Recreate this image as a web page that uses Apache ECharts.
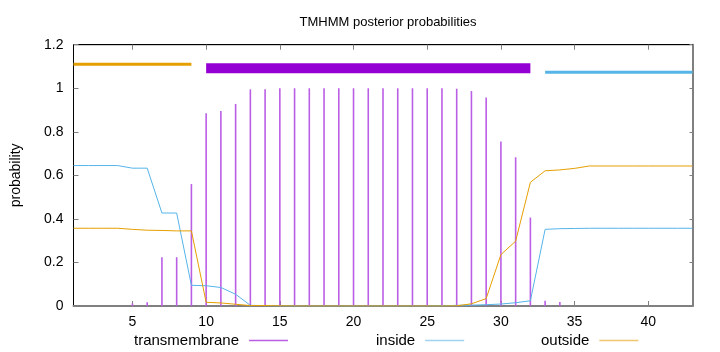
<!DOCTYPE html>
<html>
<head>
<meta charset="utf-8">
<script src="https://cdn.jsdelivr.net/npm/echarts@6/dist/echarts.min.js"></script>
<style>
  html, body { margin: 0; padding: 0; background: #fff; }
  #chart { width: 720px; height: 352px; }
</style>
</head>
<body>
<div id="chart"></div>
<script>
// residue positions
const positions = [1, 2, 3, 4, 5, 6, 7, 8, 9, 10, 11, 12, 13, 14, 15, 16, 17, 18, 19, 20, 21,
  22, 23, 24, 25, 26, 27, 28, 29, 30, 31, 32, 33, 34, 35, 36, 37, 38, 39, 40, 41, 42, 43]

// posterior probabilities per residue
const transmembrane = [0, 0, 0, 0, 0.012, 0.017, 0.224, 0.224, 0.56, 0.885, 0.895, 0.928, 0.995, 0.995,
  1, 1, 1, 1, 1, 1, 1, 1, 1, 1, 1, 1, 0.998, 0.987, 0.958, 0.755, 0.683, 0.406, 0.024, 0.018,
  0, 0, 0, 0, 0, 0, 0, 0, 0]
const inside = [0.645, 0.645, 0.645, 0.645, 0.633, 0.633, 0.427, 0.427, 0.095, 0.093, 0.085, 0.054,
  0.003, 0.002, 0.001, 0, 0, 0, 0, 0, 0, 0, 0, 0, 0, 0.001, 0.003, 0.004, 0.006, 0.009, 0.015, 0.024,
  0.352, 0.355, 0.356, 0.357, 0.357, 0.357, 0.357, 0.357, 0.357, 0.357, 0.357]
const outside = [0.357, 0.357, 0.357, 0.357, 0.352, 0.348, 0.347, 0.345, 0.345, 0.017, 0.014, 0.008,
  0.002, 0.002, 0.001, 0, 0, 0, 0, 0, 0, 0, 0, 0, 0, 0, 0.001, 0.01, 0.034, 0.236, 0.298, 0.568,
  0.621, 0.625, 0.632, 0.643, 0.643, 0.643, 0.643, 0.643, 0.643, 0.643, 0.643]

// predicted topology segments [from, to, level]
const outsideSeg = [1, 9, 1.11]
const helixSeg = [10, 32, 1.092]
const insideSeg = [33, 43, 1.074]

const xTicks = [5, 10, 15, 20, 25, 30, 35, 40]

const font = 'Liberation Sans, Arial, sans-serif'
const purple = '#9400d3'
const blue = '#56b4e9'
const orange = '#e69f00'

const pairs = (ys) => positions.map((x, i) => [x, ys[i]])
const seg = (s) => [[s[0], s[2]], [s[1], s[2]]]

const chart = echarts.init(document.getElementById('chart'))

const legendBase = {
  orient: 'horizontal',
  align: 'right',
  top: 333,
  padding: 0,
  itemWidth: 39,
  itemHeight: 1.5,
  icon: 'rect',
  textStyle: { fontFamily: font, fontSize: 15, color: '#000', padding: [0, 5, 0, 0] }
}

const option = {
  animation: false,
  title: {
    text: 'TMHMM posterior probabilities',
    left: 383,
    textAlign: 'center',
    top: 11,
    textStyle: { fontFamily: font, fontSize: 13, fontWeight: 'normal', color: '#000' }
  },
  legend: [
    Object.assign({}, legendBase, { left: 134, data: ['transmembrane'] }),
    Object.assign({}, legendBase, { left: 376, data: ['inside'] }),
    Object.assign({}, legendBase, { left: 541, data: ['outside'] })
  ],
  grid: {
    left: 73.5, right: 27.5, top: 44.7, bottom: 46,
    show: true, borderColor: '#000', borderWidth: 1, backgroundColor: 'transparent'
  },
  xAxis: [
    {
      type: 'value',
      min: 1,
      max: 43,
      axisLine: { show: true, onZero: false, lineStyle: { color: '#808080', width: 2 } },
      axisTick: { inside: true, length: 5, customValues: xTicks, lineStyle: { color: '#808080' } },
      axisLabel: { customValues: xTicks, margin: 9, fontFamily: font, fontSize: 14, color: '#000' },
      splitLine: { show: false }
    },
    {
      type: 'value',
      position: 'top',
      min: 1,
      max: 43,
      axisLine: { show: true, onZero: false, lineStyle: { color: '#000', width: 1 } },
      axisTick: { inside: true, length: 5, customValues: xTicks, lineStyle: { color: '#808080' } },
      axisLabel: { show: false },
      splitLine: { show: false }
    }
  ],
  yAxis: [
    {
      type: 'value',
      min: 0,
      max: 1.2,
      interval: 0.2,
      name: 'probability',
      nameLocation: 'middle',
      nameGap: 50,
      nameTextStyle: { fontFamily: font, fontSize: 14, color: '#000' },
      axisLine: { show: true, onZero: false, lineStyle: { color: '#000', width: 1 } },
      axisTick: { inside: true, length: 5, lineStyle: { color: '#808080' } },
      axisLabel: { margin: 10, fontFamily: font, fontSize: 14, color: '#000' },
      splitLine: { show: false }
    },
    {
      type: 'value',
      position: 'right',
      min: 0,
      max: 1.2,
      interval: 0.2,
      axisLine: { show: true, onZero: false, lineStyle: { color: '#808080', width: 2 } },
      axisTick: { inside: true, length: 3, lineStyle: { color: '#808080' } },
      axisLabel: { show: false },
      splitLine: { show: false }
    }
  ],
  series: [
    {
      name: 'transmembrane',
      type: 'bar',
      barWidth: 1.6,
      itemStyle: { color: '#bb5ee6' },
      data: pairs(transmembrane),
      z: 2
    },
    {
      name: 'inside',
      type: 'line',
      showSymbol: false,
      lineStyle: { color: blue, width: 1 },
      itemStyle: { color: '#9fd3f0' },
      data: pairs(inside),
      z: 3
    },
    {
      name: 'outside',
      type: 'line',
      showSymbol: false,
      lineStyle: { color: orange, width: 1 },
      itemStyle: { color: '#f0c770' },
      data: pairs(outside),
      z: 3
    },
    {
      name: 'outsideSeg',
      type: 'line',
      xAxisIndex: 1,
      yAxisIndex: 1,
      showSymbol: false,
      lineStyle: { color: orange, width: 3 },
      data: seg(outsideSeg)
    },
    {
      name: 'helixSeg',
      type: 'line',
      xAxisIndex: 1,
      yAxisIndex: 1,
      showSymbol: false,
      lineStyle: { color: purple, width: 10, cap: 'butt' },
      data: seg(helixSeg)
    },
    {
      name: 'insideSeg',
      type: 'line',
      xAxisIndex: 1,
      yAxisIndex: 1,
      showSymbol: false,
      lineStyle: { color: blue, width: 3 },
      data: seg(insideSeg)
    }
  ]
}

chart.setOption(option)
</script>
</body>
</html>
